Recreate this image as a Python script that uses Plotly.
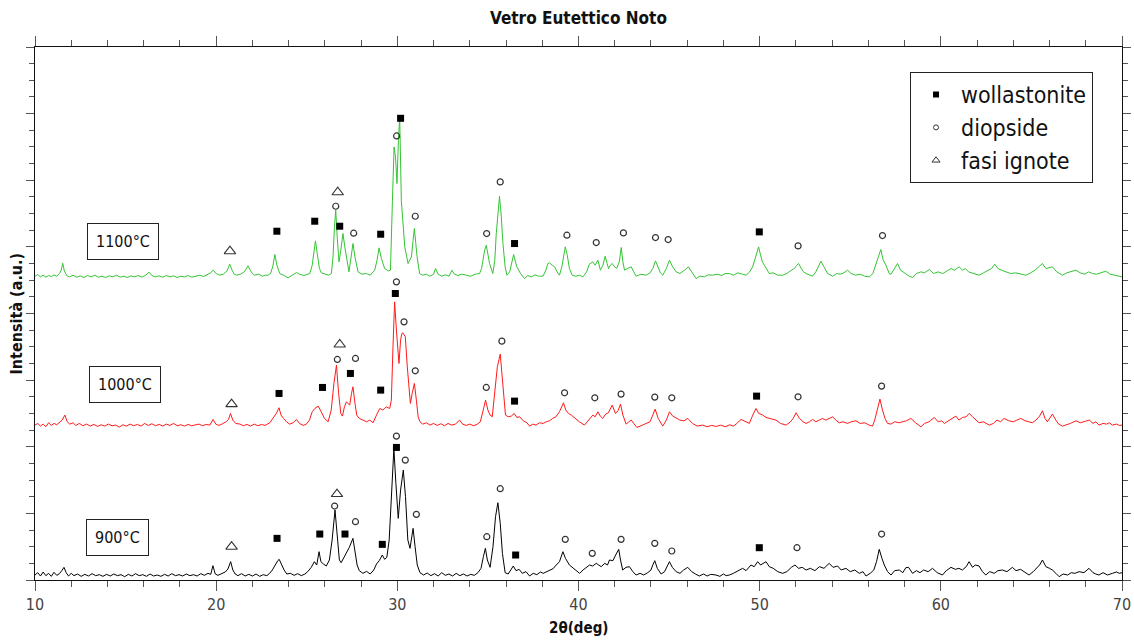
import plotly.graph_objects as go

# ---------------- DATA (2theta in deg, intensity in a.u.) ----------------
pattern_900 = [
    (10.00,15),(10.15,22),(10.30,12),(10.45,24),(10.60,13),(10.75,20),(10.90,11),(11.05,23),(11.20,14),(11.35,19),
    (11.48,28),(11.60,38),(11.72,22),(11.85,12),(12.00,20),(12.15,13),(12.35,18),(12.55,11),(12.75,17),(12.95,12),
    (13.15,19),(13.35,13),(13.55,16),(13.75,11),(13.95,17),(14.15,12),(14.35,18),(14.55,13),(14.75,16),(14.95,10),
    (15.15,17),(15.35,12),(15.55,19),(15.75,13),(15.95,16),(16.15,11),(16.35,18),(16.55,12),(16.75,15),(16.95,11),
    (17.15,17),(17.35,12),(17.55,19),(17.75,13),(17.95,16),(18.15,12),(18.35,18),(18.55,13),(18.75,16),(18.95,12),
    (19.15,19),(19.35,14),(19.55,20),(19.70,17),(19.82,43),(19.95,18),(20.10,14),(20.30,20),(20.50,24),(20.65,33),
    (20.80,55),(20.92,30),(21.05,18),(21.20,13),(21.40,19),(21.60,12),(21.80,17),(22.00,12),(22.20,18),(22.40,11),
    (22.60,16),(22.80,13),(22.95,20),(23.10,30),(23.25,45),(23.40,58),(23.48,62),(23.60,48),(23.75,30),(23.90,18),
    (24.10,20),(24.30,14),(24.50,19),(24.70,13),(24.90,18),(25.05,25),(25.25,38),(25.42,55),(25.55,45),(25.68,85),
    (25.78,55),(25.92,48),(26.08,42),(26.25,60),(26.40,120),(26.56,210),(26.68,130),(26.80,60),(26.90,52),(27.05,68),
    (27.20,80),(27.35,98),(27.55,125),(27.66,90),(27.78,45),(27.90,28),(28.10,20),(28.30,26),(28.50,18),(28.70,30),
    (28.85,48),(29.00,58),(29.17,75),(29.30,62),(29.42,68),(29.55,120),(29.68,260),(29.81,395),(29.92,290),(30.05,185),
    (30.18,270),(30.33,330),(30.45,250),(30.58,120),(30.70,95),(30.80,130),(30.87,155),(30.98,100),(31.10,45),(31.25,22),
    (31.45,15),(31.65,21),(31.85,13),(32.05,19),(32.25,12),(32.45,22),(32.65,14),(32.85,18),(33.05,12),(33.25,20),
    (33.45,13),(33.65,18),(33.85,12),(34.05,17),(34.25,14),(34.45,22),(34.62,35),(34.75,70),(34.86,95),(34.97,60),
    (35.12,38),(35.28,100),(35.42,190),(35.55,232),(35.68,170),(35.80,80),(35.95,22),(36.12,18),(36.28,30),(36.40,42),
    (36.55,28),(36.72,32),(36.90,20),(37.10,25),(37.30,12),(37.50,20),(37.70,16),(37.90,24),(38.05,20),(38.22,25),
    (38.40,30),(38.60,34),(38.77,45),(38.95,55),(39.14,85),(39.28,65),(39.50,45),(39.70,35),(39.88,28),(40.06,20),
    (40.25,30),(40.45,38),(40.61,45),(40.78,42),(40.98,50),(41.12,45),(41.25,40),(41.45,50),(41.60,45),(41.71,60),
    (41.90,58),(42.05,75),(42.22,92),(42.32,60),(42.44,30),(42.62,38),(42.81,40),(43.00,25),(43.18,15),(43.40,20),
    (43.60,15),(43.82,22),(44.00,30),(44.10,45),(44.21,58),(44.35,35),(44.56,18),(44.75,25),(44.90,40),(45.02,55),
    (45.18,38),(45.39,25),(45.60,20),(45.80,30),(46.03,38),(46.25,25),(46.45,18),(46.67,12),(46.90,18),(47.10,12),
    (47.30,17),(47.59,15),(47.80,11),(48.00,18),(48.15,13),(48.33,15),(48.55,20),(48.80,28),(49.06,35),(49.25,28),
    (49.52,45),(49.70,40),(49.89,55),(50.05,45),(50.20,50),(50.35,55),(50.53,40),(50.75,35),(51.00,25),(51.27,20),
    (51.50,25),(51.75,38),(51.95,45),(52.15,35),(52.35,38),(52.56,30),(52.80,35),(53.05,28),(53.30,40),(53.55,35),
    (53.84,50),(54.05,38),(54.30,42),(54.50,30),(54.76,35),(55.00,25),(55.25,30),(55.50,20),(55.70,25),(55.87,12),
    (56.10,20),(56.30,30),(56.45,55),(56.60,92),(56.75,65),(56.88,45),(57.06,25),(57.25,15),(57.45,28),(57.71,30),
    (57.90,22),(58.07,37),(58.22,38),(58.44,20),(58.65,28),(58.85,22),(59.05,30),(59.30,25),(59.54,35),(59.80,22),
    (60.09,15),(60.30,28),(60.56,38),(60.80,32),(61.00,35),(61.19,30),(61.40,40),(61.56,55),(61.75,38),(61.90,45),
    (62.11,42),(62.30,25),(62.48,15),(62.70,25),(62.95,20),(63.15,28),(63.40,30),(63.65,25),(63.95,38),(64.15,28),
    (64.40,32),(64.65,22),(64.87,15),(65.10,25),(65.30,35),(65.45,45),(65.61,60),(65.80,40),(66.00,35),(66.16,30),
    (66.35,20),(66.53,10),(66.75,18),(67.00,15),(67.20,22),(67.40,20),(67.63,25),(67.90,22),(68.18,35),(68.40,22),
    (68.55,18),(68.73,15),(68.95,22),(69.20,15),(69.47,20),(69.70,24),(69.85,20),(70.00,22),
]

pattern_1000 = [
    (10.00,15),(10.15,20),(10.30,12),(10.45,18),(10.60,10),(10.75,22),(10.90,14),(11.05,20),(11.20,16),(11.35,24),
    (11.50,30),(11.65,45),(11.78,25),(11.92,18),(12.10,22),(12.25,14),(12.45,20),(12.65,13),(12.85,18),(13.05,12),
    (13.25,17),(13.45,11),(13.65,16),(13.85,12),(14.05,18),(14.25,13),(14.45,15),(14.65,9),(14.85,16),(15.05,12),
    (15.25,18),(15.45,13),(15.65,17),(15.85,12),(16.05,20),(16.25,14),(16.45,19),(16.65,13),(16.85,17),(17.05,12),
    (17.25,18),(17.45,14),(17.65,20),(17.85,13),(18.05,16),(18.25,12),(18.45,17),(18.65,13),(18.85,16),(19.05,18),
    (19.25,13),(19.45,17),(19.65,15),(19.83,32),(19.98,18),(20.15,14),(20.35,19),(20.55,25),(20.68,32),(20.79,50),
    (20.92,30),(21.08,20),(21.31,18),(21.50,13),(21.70,17),(21.90,12),(22.10,18),(22.30,13),(22.50,17),(22.70,14),
    (22.96,22),(23.15,35),(23.32,50),(23.47,67),(23.58,45),(23.72,35),(23.88,25),(24.05,18),(24.25,22),(24.43,32),
    (24.60,20),(24.80,14),(24.98,18),(25.15,30),(25.30,55),(25.45,65),(25.63,72),(25.80,55),(25.98,35),(26.18,25),
    (26.35,60),(26.50,140),(26.64,195),(26.76,110),(26.88,50),(26.97,42),(27.08,70),(27.19,85),(27.30,78),(27.37,75),
    (27.47,110),(27.55,130),(27.65,85),(27.76,45),(27.90,35),(28.10,30),(28.30,25),(28.48,30),(28.66,22),(28.85,45),
    (29.03,65),(29.20,60),(29.38,70),(29.58,65),(29.67,90),(29.76,250),(29.85,385),(29.95,300),(30.09,200),(30.18,270),
    (30.25,290),(30.31,292),(30.44,280),(30.55,190),(30.65,105),(30.72,80),(30.82,110),(30.94,140),(31.05,90),(31.15,40),
    (31.25,25),(31.40,18),(31.60,22),(31.80,15),(32.00,20),(32.20,14),(32.40,19),(32.60,13),(32.80,20),(33.00,15),
    (33.20,18),(33.44,30),(33.60,18),(33.80,14),(34.00,18),(34.20,13),(34.40,17),(34.58,25),(34.72,55),(34.87,90),
    (35.00,60),(35.12,45),(35.24,40),(35.38,110),(35.52,190),(35.68,228),(35.80,150),(35.97,45),(36.12,40),(36.29,42),
    (36.45,50),(36.60,38),(36.75,40),(36.95,28),(37.15,22),(37.30,12),(37.48,18),(37.65,15),(37.85,22),(38.05,20),
    (38.22,25),(38.40,28),(38.58,35),(38.75,40),(38.95,55),(39.17,82),(39.30,60),(39.45,50),(39.60,45),(39.80,35),
    (40.05,25),(40.33,15),(40.55,30),(40.79,45),(40.92,40),(41.07,55),(41.20,42),(41.34,35),(41.50,48),(41.65,52),
    (41.86,75),(42.04,50),(42.18,58),(42.32,78),(42.45,45),(42.63,18),(42.78,25),(42.91,30),(43.05,20),(43.22,8),
    (43.40,12),(43.55,15),(43.75,20),(43.95,25),(44.10,45),(44.23,63),(44.40,35),(44.65,12),(44.85,30),(45.02,55),
    (45.20,42),(45.39,35),(45.60,30),(45.82,28),(46.03,35),(46.15,28),(46.30,20),(46.55,12),(46.86,15),(47.10,10),
    (47.35,14),(47.60,11),(47.85,15),(48.10,10),(48.35,16),(48.55,12),(48.70,18),(48.97,32),(49.20,25),(49.43,20),
    (49.62,45),(49.80,65),(49.95,50),(50.17,45),(50.35,38),(50.55,35),(50.75,30),(50.90,30),(51.15,20),(51.46,15),
    (51.70,25),(51.85,35),(52.01,52),(52.20,35),(52.40,25),(52.56,20),(52.75,25),(52.92,32),(53.10,25),(53.30,30),
    (53.47,35),(53.65,30),(53.85,35),(54.03,40),(54.20,30),(54.39,22),(54.60,25),(54.85,20),(55.05,25),(55.31,28),
    (55.55,20),(55.80,22),(56.05,15),(56.23,12),(56.35,30),(56.50,65),(56.64,93),(56.78,60),(56.92,35),(57.06,20),
    (57.25,18),(57.45,25),(57.71,22),(57.89,25),(58.10,28),(58.35,35),(58.60,22),(58.90,10),(59.10,20),(59.35,25),
    (59.64,38),(59.85,25),(60.05,28),(60.19,20),(60.40,28),(60.60,35),(60.83,42),(61.00,30),(61.20,38),(61.40,40),
    (61.56,50),(61.75,40),(61.95,30),(62.11,22),(62.35,25),(62.67,15),(62.90,20),(63.10,30),(63.30,25),(63.49,35),
    (63.75,28),(64.00,25),(64.20,30),(64.41,35),(64.65,28),(64.85,25),(65.05,22),(65.25,30),(65.45,42),(65.61,58),
    (65.75,35),(65.88,25),(66.00,35),(66.16,48),(66.35,30),(66.50,18),(66.71,12),(66.90,15),(67.15,20),(67.45,28),
    (67.70,22),(68.00,27),(68.20,30),(68.40,20),(68.55,25),(68.73,15),(68.95,20),(69.15,18),(69.30,22),(69.47,15),
    (69.70,18),(69.85,14),(70.00,15),
]

pattern_1100 = [
    (10.00,12),(10.15,17),(10.30,10),(10.45,15),(10.60,9),(10.75,14),(10.90,11),(11.05,16),(11.20,12),(11.35,20),
    (11.45,30),(11.53,51),(11.62,28),(11.75,14),(11.90,10),(12.10,15),(12.30,9),(12.50,13),(12.70,8),(12.90,14),
    (13.10,10),(13.30,15),(13.50,9),(13.70,12),(13.90,8),(14.10,13),(14.30,10),(14.50,15),(14.70,9),(14.90,12),
    (15.10,8),(15.30,13),(15.50,10),(15.70,14),(15.90,9),(16.10,15),(16.30,24),(16.45,14),(16.65,10),(16.85,13),
    (17.05,9),(17.25,14),(17.45,10),(17.65,13),(17.85,8),(18.05,12),(18.25,10),(18.45,14),(18.65,9),(18.85,12),
    (19.10,15),(19.30,11),(19.55,18),(19.70,22),(19.83,30),(20.00,20),(20.20,15),(20.40,18),(20.60,28),(20.75,48),
    (20.88,30),(21.00,18),(21.12,15),(21.35,18),(21.55,25),(21.76,43),(21.90,28),(22.00,20),(22.13,15),(22.35,18),
    (22.55,12),(22.70,15),(22.87,15),(23.00,20),(23.12,40),(23.24,77),(23.35,45),(23.51,20),(23.75,14),(23.97,7),
    (24.20,15),(24.43,23),(24.60,18),(24.85,14),(25.05,18),(25.17,20),(25.30,45),(25.40,90),(25.48,118),(25.58,80),
    (25.70,35),(25.81,22),(26.00,18),(26.20,15),(26.36,20),(26.45,70),(26.53,160),(26.60,210),(26.68,130),(26.78,55),
    (26.88,90),(27.00,140),(27.10,100),(27.19,70),(27.33,25),(27.45,70),(27.55,110),(27.66,70),(27.83,25),(28.05,18),
    (28.29,20),(28.50,15),(28.75,30),(28.88,60),(28.99,97),(29.12,65),(29.30,35),(29.50,28),(29.62,30),(29.73,240),
    (29.82,400),(29.90,370),(29.98,290),(30.06,420),(30.13,490),(30.22,240),(30.32,150),(30.41,100),(30.59,50),(30.78,70),
    (30.87,120),(30.94,155),(31.02,110),(31.09,70),(31.23,20),(31.40,15),(31.60,18),(31.80,12),(32.00,18),(32.11,35),
    (32.25,18),(32.45,12),(32.65,16),(32.85,12),(33.01,30),(33.15,18),(33.35,14),(33.55,18),(33.81,15),(34.05,12),
    (34.30,18),(34.54,20),(34.65,35),(34.72,60),(34.82,90),(34.91,105),(35.00,75),(35.09,50),(35.27,20),(35.38,60),
    (35.46,140),(35.55,210),(35.64,252),(35.74,190),(35.83,110),(35.95,40),(36.05,15),(36.20,25),(36.29,45),(36.42,77),
    (36.52,55),(36.60,40),(36.80,20),(37.02,5),(37.20,14),(37.40,10),(37.60,16),(37.80,12),(38.04,12),(38.20,30),
    (38.31,50),(38.40,52),(38.55,45),(38.68,40),(38.82,25),(38.95,15),(39.08,40),(39.18,75),(39.27,100),(39.38,75),
    (39.50,35),(39.65,15),(39.85,12),(40.05,15),(40.24,10),(40.45,25),(40.60,48),(40.79,55),(40.92,45),(41.07,60),
    (41.21,30),(41.35,45),(41.47,72),(41.58,50),(41.66,35),(41.76,45),(41.86,50),(42.00,40),(42.11,35),(42.25,55),
    (42.36,98),(42.45,55),(42.54,30),(42.70,35),(42.91,40),(43.05,25),(43.18,12),(43.45,18),(43.73,15),(43.95,22),
    (44.10,35),(44.25,58),(44.40,35),(44.52,22),(44.65,15),(44.85,35),(45.02,60),(45.20,40),(45.39,25),(45.60,20),
    (45.85,30),(46.07,40),(46.25,25),(46.49,5),(46.70,12),(46.95,10),(47.15,16),(47.41,15),(47.65,18),(47.90,14),
    (48.10,20),(48.33,20),(48.55,15),(48.80,22),(49.05,18),(49.25,15),(49.45,25),(49.61,40),(49.78,70),(49.94,100),
    (50.05,75),(50.15,55),(50.26,45),(50.40,30),(50.53,20),(50.75,22),(51.00,15),(51.27,15),(51.50,20),(51.70,28),
    (51.91,35),(52.05,45),(52.15,50),(52.30,35),(52.42,25),(52.56,20),(52.75,15),(52.92,12),(53.10,25),(53.25,45),
    (53.38,57),(53.55,40),(53.75,20),(54.03,12),(54.25,20),(54.45,18),(54.65,22),(54.85,30),(55.05,20),(55.30,15),
    (55.55,18),(55.80,12),(56.05,10),(56.25,20),(56.42,45),(56.55,70),(56.69,92),(56.82,60),(56.97,45),(57.15,20),
    (57.25,18),(57.45,35),(57.61,50),(57.78,30),(58.07,18),(58.25,12),(58.44,8),(58.65,20),(58.90,25),(59.10,22),
    (59.36,32),(59.60,20),(59.85,25),(60.10,20),(60.35,28),(60.56,35),(60.75,30),(61.01,40),(61.20,30),(61.35,35),
    (61.53,25),(61.80,20),(62.11,15),(62.35,22),(62.60,28),(62.80,35),(62.98,48),(63.15,35),(63.35,30),(63.59,25),
    (63.85,20),(64.14,22),(64.40,18),(64.69,15),(64.95,22),(65.20,30),(65.40,40),(65.61,50),(65.80,35),(66.00,38),
    (66.16,40),(66.40,25),(66.71,15),(66.95,22),(67.20,25),(67.45,30),(67.70,22),(67.95,18),(68.15,25),(68.37,20),
    (68.60,18),(68.85,22),(69.10,27),(69.35,18),(69.60,15),(69.80,14),(70.00,10),
]

# vertical stacking offsets of the three patterns (a.u.)
offset_900 = 0
offset_1000 = 450
offset_1100 = 900

# phase markers: (2theta, intensity above the pattern's own zero)
wollastonite_900 = [(23.36,125),(25.72,138),(27.11,138),(29.17,107),(29.95,398),(36.53,75),(49.98,97)]
diopside_900 = [(26.54,222),(27.69,175),(29.95,432),(30.44,360),(31.05,197),(34.94,130),(35.68,274),
                (39.27,122),(40.76,80),(42.35,122),(44.21,110),(45.15,87),(52.06,97),(56.73,138)]
ignote_900 = [(20.85,100),(26.67,258)]

wollastonite_1000 = [(23.47,110),(25.87,128),(27.41,170),(29.08,120),(29.89,410),(36.47,87),(49.83,102)]
diopside_1000 = [(26.69,212),(27.69,215),(29.95,445),(30.37,325),(30.99,178),(34.91,128),(35.77,267),
                 (39.23,112),(40.90,97),(42.35,108),(44.21,99),(45.15,97),(52.12,100),(56.73,132)]
ignote_1000 = [(20.85,78),(26.82,257)]

wollastonite_1100 = [(23.35,147),(25.44,177),(26.82,162),(29.08,138),(30.18,486),(36.47,110),(49.98,145)]
diopside_1100 = [(26.60,222),(27.59,141),(29.96,433),(30.99,192),(34.93,140),(35.68,295),(39.36,135),
                 (40.98,113),(42.48,142),(44.25,128),(44.95,122),(52.12,103),(56.78,134)]
ignote_1100 = [(20.76,87),(26.71,264)]

sample_labels = ["900°C", "1000°C", "1100°C"]
label_positions = [(14.58, 128), (14.96, 587), (14.88, 1017)]
phase_names = ["wollastonite", "diopside", "fasi ignote"]
x_tick_values = [10, 20, 30, 40, 50, 60, 70]

# ---------------- FIGURE ----------------
NARROW = "Liberation Sans Narrow, Arial Narrow, DejaVu Sans Condensed, Liberation Sans, sans-serif"

fig = go.Figure()

patterns = [
    (pattern_1100, offset_1100, "#33c433"),
    (pattern_1000, offset_1000, "#ff1a1a"),
    (pattern_900, offset_900, "#000000"),
]
for pat, off, col in patterns:
    fig.add_trace(go.Scatter(
        x=[p[0] for p in pat], y=[p[1] + off for p in pat],
        mode="lines", line=dict(color=col, width=1),
        showlegend=False, hoverinfo="skip",
    ))

marker_styles = {
    "wollastonite": dict(symbol="square", size=7, color="#000000", line=dict(width=0)),
    "diopside": dict(symbol="circle-open", size=6, color="#333333", line=dict(width=1.2, color="#333333")),
    "fasi ignote": dict(symbol="triangle-up-open", size=10, color="#333333", line=dict(width=1.1, color="#333333")),
}
legend_styles = {
    "wollastonite": dict(symbol="square", size=6, color="#000000", line=dict(width=0)),
    "diopside": dict(symbol="circle-open", size=5, color="#333333", line=dict(width=1, color="#333333")),
    "fasi ignote": dict(symbol="triangle-up-open", size=7, color="#333333", line=dict(width=1, color="#333333")),
}

marker_sets = [
    ("wollastonite", [(wollastonite_900, offset_900), (wollastonite_1000, offset_1000), (wollastonite_1100, offset_1100)]),
    ("diopside", [(diopside_900, offset_900), (diopside_1000, offset_1000), (diopside_1100, offset_1100)]),
    ("fasi ignote", [(ignote_900, offset_900), (ignote_1000, offset_1000), (ignote_1100, offset_1100)]),
]
for name, groups in marker_sets:
    xs, ys = [], []
    for pts, off in groups:
        xs += [p[0] for p in pts]
        ys += [p[1] + off for p in pts]
    fig.add_trace(go.Scatter(x=xs, y=ys, mode="markers", marker=marker_styles[name],
                             showlegend=False, hoverinfo="skip"))

for name in phase_names:
    fig.add_trace(go.Scatter(x=[None], y=[None], mode="markers", marker=legend_styles[name],
                             name=name, showlegend=True))

for lab, (lx, ly) in zip(sample_labels, label_positions):
    fig.add_annotation(x=lx, y=ly, xref="x", yref="y", text=lab, showarrow=False,
                       xanchor="center", yanchor="middle",
                       font=dict(family=NARROW, size=16, color="#111111"),
                       bordercolor="#222222", borderwidth=1, borderpad=8, bgcolor="white")

fig.add_annotation(x=0.5, y=1, xref="paper", yref="paper", yshift=29, showarrow=False,
                   xanchor="center", yanchor="middle",
                   text="<b>Vetro Eutettico Noto</b>", font=dict(family=NARROW, size=17, color="#111111"))
fig.add_annotation(x=0.5, y=0, xref="paper", yref="paper", yshift=-48, showarrow=False,
                   xanchor="center", yanchor="middle",
                   text="<b>2θ(deg)</b>", font=dict(family=NARROW, size=15, color="#111111"))
fig.add_annotation(x=0, y=0.5, xref="paper", yref="paper", xshift=-19, showarrow=False, textangle=-90,
                   xanchor="center", yanchor="middle",
                   text="<b>Intensità (a.u.)</b>", font=dict(family=NARROW, size=16, color="#111111"))

fig.update_layout(
    width=1142, height=640,
    margin=dict(l=35, r=11, t=47, b=60),
    paper_bgcolor="white", plot_bgcolor="white",
    showlegend=True,
    legend=dict(x=0.805, y=0.953, xanchor="left", yanchor="top",
                bordercolor="#222222", borderwidth=1, bgcolor="white",
                font=dict(family=NARROW, size=23, color="#111111"),
                itemwidth=40, tracegroupgap=0),
    xaxis=dict(range=[10, 70], tickvals=x_tick_values, ticks="outside", ticklen=10, tickwidth=1,
               tickcolor="#555555", showline=True, linecolor="#111111", linewidth=1, mirror="ticks",
               showgrid=False, zeroline=False,
               tickfont=dict(family=NARROW, size=16, color="#444444"),
               minor=dict(dtick=2, tick0=10, ticks="outside", ticklen=6, tickcolor="#555555", showgrid=False)),
    yaxis=dict(range=[0, 1600], tick0=0, dtick=200, ticks="outside", ticklen=8, tickwidth=1,
               tickcolor="#555555", showline=True, linecolor="#111111", linewidth=1, mirror="ticks",
               showgrid=False, zeroline=False, showticklabels=False,
               minor=dict(dtick=50, tick0=0, ticks="outside", ticklen=5, tickcolor="#555555", showgrid=False)),
)

fig.write_html(
    "out.html",
    config={"displayModeBar": False},
    post_script=("document.documentElement.style.margin='0';document.body.style.margin='0';"
                 "document.documentElement.style.overflow='hidden';document.body.style.overflow='hidden';"),
)
